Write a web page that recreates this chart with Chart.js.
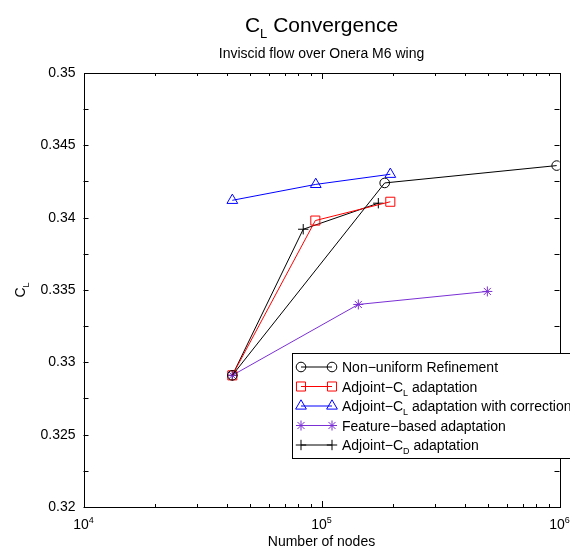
<!DOCTYPE html>
<html>
<head>
<meta charset="utf-8">
<title>CL Convergence</title>
<script src="https://cdn.jsdelivr.net/npm/chart.js@4/dist/chart.umd.min.js"></script>
<style>
  html, body { margin: 0; padding: 0; background: #fff; }
  #wrap { width: 570px; height: 550px; }
</style>
</head>
<body>
<div id="wrap"><canvas id="cl-chart" width="570" height="550"></canvas></div>
<script>
/* ── Data ───────────────────────────────────────────────────── */
var nonUniformNodes = [42200, 184300, 973000];
var nonUniformCL    = [0.3291, 0.3424, 0.3436];

var adjointCLNodes  = [42200, 94200, 194600];
var adjointCLValues = [0.3291, 0.3398, 0.3411];

var correctedNodes  = [42200, 94600, 194600];
var correctedValues = [0.3412, 0.3423, 0.3430];

var featureNodes    = [42200, 142800, 497500];
var featureValues   = [0.3291, 0.3340, 0.3349];

var adjointCDNodes  = [42200, 83800, 173300];
var adjointCDValues = [0.3291, 0.3392, 0.3410];

var yTickValues = [0.32, 0.325, 0.33, 0.335, 0.34, 0.345, 0.35];
var yTickLabels = ['0.32', '0.325', '0.33', '0.335', '0.34', '0.345', '0.35'];
var xTickExponents = [4, 5, 6];

var FONT = "'Liberation Sans', Arial, Helvetica, sans-serif";

function pts(xs, ys) {
    return xs.map(function (x, i) { return { x: x, y: ys[i] }; });
}

function series(label, xs, ys, color, style, radius) {
    return {
        label: label,
        data: pts(xs, ys),
        borderColor: color,
        borderWidth: 1,
        pointStyle: style,
        pointRadius: radius,
        pointHoverRadius: radius,
        pointBorderColor: color,
        pointBorderWidth: 1,
        pointBackgroundColor: 'rgba(0,0,0,0)',
        tension: 0,
        fill: false,
    };
}

var datasets = [
    series('Non-uniform Refinement', nonUniformNodes, nonUniformCL, '#000000', 'circle', 4.8),
    series('Adjoint-CL adaptation', adjointCLNodes, adjointCLValues, '#ff0000', 'rect', 6.4),
    series('Adjoint-CL adaptation with correction', correctedNodes, correctedValues, '#0000ff', 'triangle', 6.2),
    series('Feature-based adaptation', featureNodes, featureValues, '#7a2fd4', 'star', 5),
    series('Adjoint-CD adaptation', adjointCDNodes, adjointCDValues, '#000000', 'cross', 5.2),
];

// legend text, with subscripts split out
var legendLabels = [
    [{ t: 'Non\u2212uniform Refinement' }],
    [{ t: 'Adjoint\u2212C' }, { t: 'L', sub: true }, { t: ' adaptation' }],
    [{ t: 'Adjoint\u2212C' }, { t: 'L', sub: true }, { t: ' adaptation with correction' }],
    [{ t: 'Feature\u2212based adaptation' }],
    [{ t: 'Adjoint\u2212C' }, { t: 'D', sub: true }, { t: ' adaptation' }],
];

/* ── helpers ────────────────────────────────────────────────── */
function drawRich(ctx, parts, x, y, size, subSize, align) {
    var w = 0, i;
    for (i = 0; i < parts.length; i++) {
        ctx.font = (parts[i].sub || parts[i].sup ? subSize : size) + 'px ' + FONT;
        w += ctx.measureText(parts[i].t).width;
    }
    var cx = align === 'center' ? x - w / 2 : x;
    ctx.textAlign = 'left';
    ctx.textBaseline = 'alphabetic';
    for (i = 0; i < parts.length; i++) {
        var p = parts[i];
        var dy = p.sub ? size * 0.3 : (p.sup ? -size * 0.45 : 0);
        ctx.font = (p.sub || p.sup ? subSize : size) + 'px ' + FONT;
        ctx.fillText(p.t, cx, y + dy);
        cx += ctx.measureText(p.t).width;
    }
}

function marker(ctx, ds, x, y) {
    var opts = {
        pointStyle: ds.pointStyle, radius: ds.pointRadius,
        borderWidth: 1, rotation: 0,
    };
    ctx.strokeStyle = ds.borderColor;
    ctx.fillStyle = 'rgba(0,0,0,0)';
    ctx.lineWidth = 1;
    if (Chart.helpers && Chart.helpers.drawPoint) {
        Chart.helpers.drawPoint(ctx, opts, x, y);
    } else {
        ctx.beginPath();
        ctx.arc(x, y, ds.pointRadius, 0, Math.PI * 2);
        ctx.stroke();
    }
}

/* ── axes frame, ticks, titles and legend ───────────────────── */
var matlabAxes = {
    id: 'matlabAxes',
    beforeDatasetsDraw: function (chart) {
        var ctx = chart.ctx, a = chart.chartArea;
        var xs = chart.scales.x, ys = chart.scales.y;
        ctx.save();
        ctx.strokeStyle = '#000';
        ctx.lineWidth = 1;
        ctx.beginPath();
        // y ticks (major + minor halves), inward on both sides
        for (var i = 0; i < yTickValues.length - 1; i++) {
            var v = [yTickValues[i], (yTickValues[i] + yTickValues[i + 1]) / 2];
            for (var k = 0; k < 2; k++) {
                var py = Math.round(ys.getPixelForValue(v[k])) + 0.5;
                ctx.moveTo(a.left, py); ctx.lineTo(a.left + 5, py);
                ctx.moveTo(a.right, py); ctx.lineTo(a.right - 5, py);
            }
        }
        // x ticks: decades long, 2..9 short
        for (var e = 4; e < 6; e++) {
            for (var m = 1; m <= 9; m++) {
                var px = Math.round(xs.getPixelForValue(m * Math.pow(10, e))) + 0.5;
                var len = m === 1 ? 6 : 3;
                ctx.moveTo(px, a.bottom); ctx.lineTo(px, a.bottom - len);
                ctx.moveTo(px, a.top); ctx.lineTo(px, a.top + len);
            }
        }
        ctx.stroke();
        ctx.restore();
    },
    afterDraw: function (chart) {
        var ctx = chart.ctx, a = chart.chartArea;
        var xs = chart.scales.x, ys = chart.scales.y;
        var cx = (a.left + a.right) / 2;
        ctx.save();
        ctx.strokeStyle = '#000';
        ctx.lineWidth = 1;
        ctx.strokeRect(Math.round(a.left) + 0.5, Math.round(a.top) + 0.5,
            Math.round(a.right - a.left), Math.round(a.bottom - a.top));

        ctx.fillStyle = '#000';
        // titles
        drawRich(ctx, [{ t: 'C' }, { t: 'L', sub: true }, { t: ' Convergence' }], cx, 32, 21, 13, 'center');
        drawRich(ctx, [{ t: 'Inviscid flow over Onera M6 wing' }], cx, 58, 14, 10, 'center');

        // y tick labels
        ctx.font = '14px ' + FONT;
        ctx.textAlign = 'right';
        ctx.textBaseline = 'middle';
        yTickValues.forEach(function (v, i) {
            ctx.fillText(yTickLabels[i], a.left - 8, ys.getPixelForValue(v));
        });

        // x tick labels 10^n
        xTickExponents.forEach(function (n) {
            drawRich(ctx, [{ t: '10' }, { t: String(n), sup: true }],
                xs.getPixelForValue(Math.pow(10, n)), a.bottom + 22, 14, 9, 'center');
        });

        // axis titles
        drawRich(ctx, [{ t: 'Number of nodes' }], cx, 546, 14, 10, 'center');
        ctx.save();
        ctx.translate(25, (a.top + a.bottom) / 2);
        ctx.rotate(-Math.PI / 2);
        drawRich(ctx, [{ t: 'C' }, { t: 'L', sub: true }], 0, 0, 14, 9, 'center');
        ctx.restore();

        // legend box
        var lx = 292.5, ly = 353.5, rowH = 19.5;
        ctx.fillStyle = '#fff';
        ctx.fillRect(lx, ly, 300, 105);
        ctx.strokeRect(lx, ly, 300, 105);
        chart.data.datasets.forEach(function (ds, i) {
            var y = ly + 13.5 + i * rowH;
            ctx.strokeStyle = ds.borderColor;
            ctx.lineWidth = 1;
            ctx.beginPath();
            ctx.moveTo(301, y); ctx.lineTo(332, y);
            ctx.stroke();
            marker(ctx, ds, 301, y);
            marker(ctx, ds, 332, y);
            ctx.fillStyle = '#000';
            drawRich(ctx, legendLabels[i], 342, y + 5, 14, 9, 'left');
        });
        ctx.restore();
    },
};

/* ── chart ──────────────────────────────────────────────────── */
new Chart(document.getElementById('cl-chart'), {
    type: 'line',
    data: { datasets: datasets },
    options: {
        responsive: false,
        animation: false,
        layout: { padding: { left: 83.5, right: 10.5, top: 73, bottom: 43 } },
        plugins: {
            legend: { display: false },
            title: { display: false },
            tooltip: { enabled: false },
        },
        scales: {
            x: { type: 'logarithmic', min: 1e4, max: 1e6, display: false },
            y: { type: 'linear', min: 0.32, max: 0.35, display: false },
        },
    },
    plugins: [matlabAxes],
});
</script>
</body>
</html>
